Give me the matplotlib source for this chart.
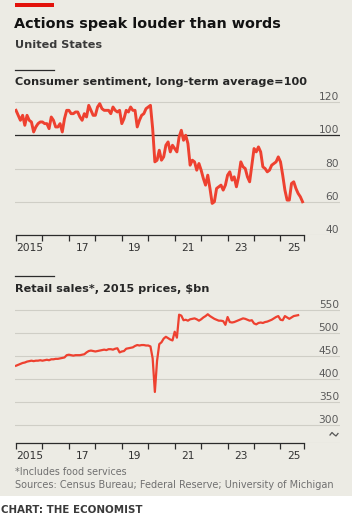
import numpy as np
import matplotlib
matplotlib.use('Agg')
import matplotlib.pyplot as plt
import matplotlib.transforms as mtransforms
from matplotlib.lines import Line2D
from matplotlib.patches import Rectangle

plt.rcParams['font.family'] = ['DejaVu Sans']

# monthly, Jan 2015 - Nov 2025, long-term average = 100
sentiment = [
    115, 112, 109, 112, 106, 112, 109, 108, 102, 105, 107, 108,   # 2015
    108, 107, 107, 104, 111, 109, 105, 105, 107, 102, 110, 115,   # 2016
    115, 113, 113, 114, 114, 111, 109, 113, 111, 118, 115, 112,   # 2017
    112, 117, 119, 116, 115, 115, 115, 113, 117, 115, 114, 115,   # 2018
    107, 110, 115, 114, 117, 115, 115, 105, 109, 112, 113, 116,   # 2019
    117, 118, 104, 84, 85, 91, 85, 87, 94, 96, 90, 94,            # 2020
    92, 90, 99, 103, 97, 100, 95, 82, 85, 84, 79, 83,             # 2021
    79, 74, 70, 76, 68, 59, 60, 68, 69, 70, 67, 70,               # 2022
    76, 78, 73, 75, 69, 75, 84, 81, 80, 75, 72, 82,               # 2023
    92, 90, 93, 90, 81, 80, 78, 79, 82, 83, 84, 87,               # 2024
    84, 76, 67, 61, 61, 71, 72, 68, 65, 63, 60,                   # 2025
]

# monthly, Jan 2015 - Sep 2025, $bn at 2015 prices
retail = [
    429, 431, 433, 435, 436, 438, 439, 440, 439, 440, 440, 441,   # 2015
    440, 441, 442, 441, 443, 443, 444, 444, 445, 446, 447, 452,   # 2016
    453, 452, 451, 452, 452, 452, 453, 454, 458, 461, 462, 461,   # 2017
    460, 461, 462, 463, 464, 463, 465, 465, 464, 466, 467, 458,   # 2018
    460, 461, 466, 467, 468, 469, 472, 474, 473, 474, 474, 473,   # 2019
    473, 471, 445, 372, 440, 476, 480, 488, 492, 489, 486, 484,   # 2020
    503, 490, 540, 538, 528, 529, 527, 530, 531, 532, 530, 527,   # 2021
    530, 534, 537, 541, 537, 534, 531, 529, 527, 527, 526, 518,   # 2022
    535, 524, 523, 524, 526, 528, 530, 532, 531, 529, 527, 528,   # 2023
    521, 519, 522, 523, 522, 524, 525, 527, 529, 532, 535, 537,   # 2024
    529, 528, 537, 534, 531, 534, 537, 538, 539,                  # 2025
]

sent_ticks = [40, 60, 80, 100, 120]
retail_ticks = [300, 350, 400, 450, 500, 550]
year_labels = ['2015', '17', '19', '21', '23', '25']

start_year = 2015
axis_end = 2025.87

RED = '#ee4130'
GRID = '#cfcec6'
DARK = '#2b2b2b'
GREY = '#5a5a5a'
BG = '#ecebe4'

W, H = 356, 525
fig = plt.figure(figsize=(W / 100, H / 100), dpi=100, facecolor='white')

def fx(px):
    return px / W

def fy(py):
    return 1 - py / H

# beige panel
fig.patches.append(Rectangle((0, fy(496)), fx(352), 1 - fy(496), transform=fig.transFigure,
                             facecolor=BG, edgecolor='none', zorder=-10))
# red tag + short rules
fig.patches.append(Rectangle((fx(15), fy(7)), fx(39), 4 / H, transform=fig.transFigure,
                             facecolor='#e3120b', edgecolor='none'))
for py in (70, 276):
    fig.lines.append(Line2D([fx(15), fx(54)], [fy(py), fy(py)], transform=fig.transFigure,
                            color=DARK, lw=0.9))

fig.text(fx(14), fy(24), 'Actions speak louder than words', fontsize=10.35, fontweight='bold',
         color='#121212', va='center')
fig.text(fx(15), fy(45), 'United States', fontsize=8.1, fontweight='bold', color='#3a3a3a', va='center')
fig.text(fx(15), fy(82), 'Consumer sentiment, long-term average=100', fontsize=8.15,
         fontweight='bold', color='#262626', va='center')
fig.text(fx(15), fy(289), 'Retail sales*, 2015 prices, $bn', fontsize=8.1,
         fontweight='bold', color='#262626', va='center')
fig.text(fx(15), fy(472), '*Includes food services', fontsize=6.9, color='#707070', va='center')
fig.text(fx(15), fy(484.5), 'Sources: Census Bureau; Federal Reserve; University of Michigan',
         fontsize=7.0, color='#707070', va='center')
fig.text(fx(1), fy(510), 'CHART: THE ECONOMIST', fontsize=7.4, fontweight='bold',
         color='#3a3a3a', va='center')

px_per_year = 26.45
x_left = start_year - 1 / px_per_year
x_right = start_year + (340 - 16) / px_per_year


def style_axis(ax, ticks, gridline_dark=None):
    ax.set_facecolor('none')
    for s in ('top', 'right', 'left'):
        ax.spines[s].set_visible(False)
    ax.spines['bottom'].set_bounds(start_year, axis_end)
    ax.spines['bottom'].set_color(DARK)
    ax.spines['bottom'].set_linewidth(0.9)
    ax.spines['bottom'].set_zorder(3)
    ax.set_xlim(x_left, x_right)
    ax.set_yticks([])
    ax.set_xticks([y + 0.5 for y in range(2015, 2026, 2)])
    ax.set_xticklabels(year_labels)
    ax.set_xticks(list(range(2015, 2026)) + [axis_end], minor=True)
    ax.tick_params(axis='x', which='major', length=0, pad=5.5, labelsize=7.7, labelcolor='#333333')
    ax.tick_params(axis='x', which='minor', length=4, width=0.9, color=DARK)
    trans = mtransforms.blended_transform_factory(fig.transFigure, ax.transData)
    for t in ticks:
        col, lw = (DARK, 0.9) if t == gridline_dark else (GRID, 0.8)
        ax.axhline(t, color=col, lw=lw, zorder=1)
        ax.text(fx(339), t, str(t), transform=trans, ha='right', va='bottom',
                fontsize=7.7, color=GREY)


# ---- consumer sentiment ----
ax1 = fig.add_axes([fx(15), fy(235), fx(340) - fx(15), (235 - 98.7) / H])
ax1.set_ylim(40, 122)
x1 = start_year + np.arange(len(sentiment)) / 12
style_axis(ax1, sent_ticks, gridline_dark=100)
ax1.plot(x1, sentiment, color=RED, lw=2.1, solid_joinstyle='round', zorder=4)

# ---- retail sales ----
ax2 = fig.add_axes([fx(15), fy(443), fx(340) - fx(15), (443 - 307.8) / H])
ax2.set_ylim(261, 555)
x2 = start_year + np.arange(len(retail)) / 12
style_axis(ax2, retail_ticks)
ax2.axhline(261, color=GRID, lw=0.8, zorder=1)
ax2.plot(x2, retail, color=RED, lw=1.6, solid_joinstyle='round', zorder=4)

# axis break mark
bx = np.array([330, 332, 334, 336, 338])
by = np.array([435, 432.5, 434.5, 436, 433.5])
fig.lines.append(Line2D(fx(bx), fy(by), transform=fig.transFigure, color='#555555', lw=0.9))

fig.savefig('out.png', dpi=100, facecolor='white')
